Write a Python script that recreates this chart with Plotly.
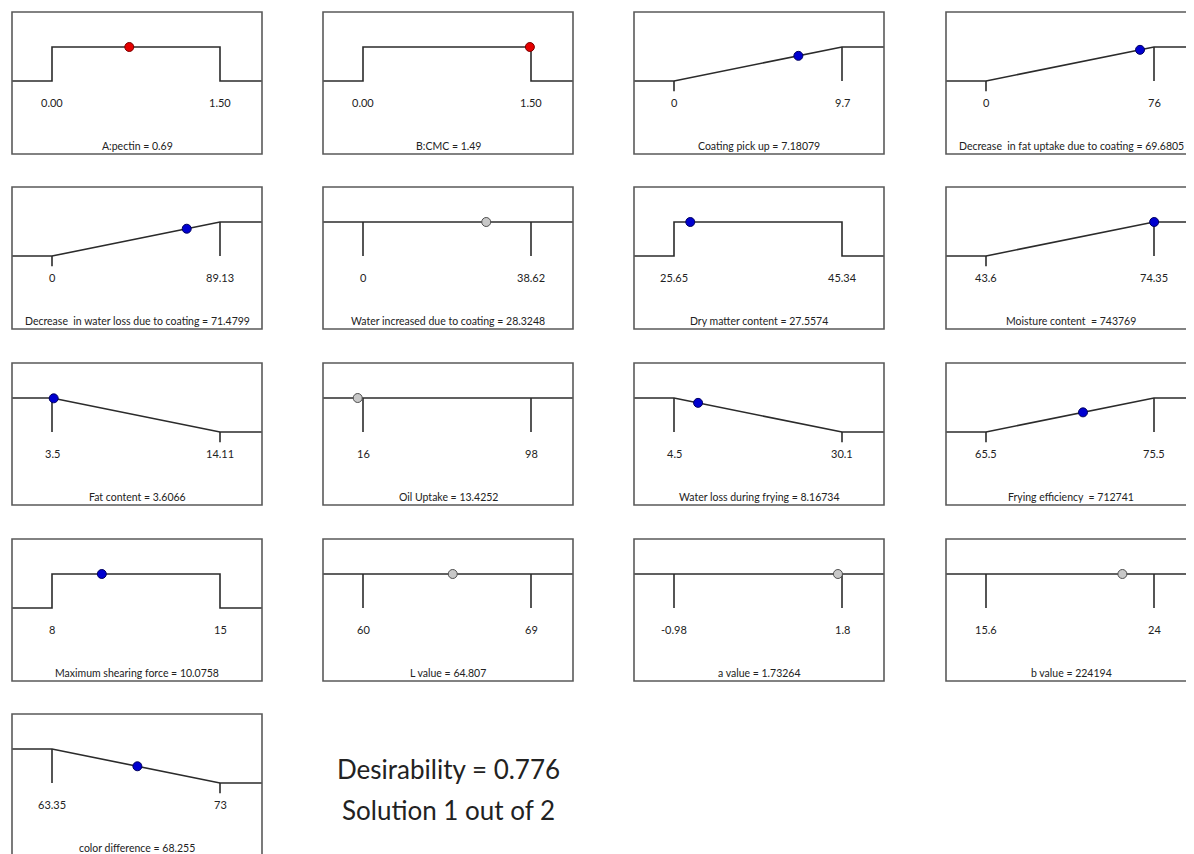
import plotly.graph_objects as go

# ---------------- data ----------------
titles = [
    "A:pectin = 0.69", "B:CMC = 1.49", "Coating pick up = 7.18079",
    "Decrease  in fat uptake due to coating = 69.6805",
    "Decrease  in water loss due to coating = 71.4799",
    "Water increased due to coating = 28.3248", "Dry matter content = 27.5574",
    "Moisture content  = 743769", "Fat content = 3.6066", "Oil Uptake = 13.4252",
    "Water loss during frying = 8.16734", "Frying efficiency  = 712741",
    "Maximum shearing force = 10.0758", "L value = 64.807", "a value = 1.73264",
    "b value = 224194", "color difference = 68.255",
]
lows = [0.00, 0.00, 0, 0, 0, 0, 25.65, 43.6, 3.5, 16, 4.5, 65.5, 8, 60, -0.98, 15.6, 63.35]
highs = [1.50, 1.50, 9.7, 76, 89.13, 38.62, 45.34, 74.35, 14.11, 98, 30.1, 75.5, 15, 69, 1.8, 24, 73]
low_labels = ["0.00", "0.00", "0", "0", "0", "0", "25.65", "43.6", "3.5", "16", "4.5",
              "65.5", "8", "60", "-0.98", "15.6", "63.35"]
high_labels = ["1.50", "1.50", "9.7", "76", "89.13", "38.62", "45.34", "74.35", "14.11",
               "98", "30.1", "75.5", "15", "69", "1.8", "24", "73"]
goals = ["range", "range", "max", "max", "max", "none", "range", "max", "min", "none",
         "min", "max", "range", "none", "none", "none", "min"]
values = [0.69, 1.49, 7.18079, 69.6805, 71.4799, 28.3248, 27.5574, 74.3769, 3.6066,
          13.4252, 8.16734, 71.2741, 10.0758, 64.807, 1.73264, 22.4194, 68.255]
kinds = ["factor", "factor"] + ["response"] * 15
summary_lines = ["Desirability = 0.776", "Solution 1 out of 2"]

# ---------------- layout constants (page pixels) ----------------
PAGE_W, PAGE_H = 1194, 854
OFF = 8                      # default page body margin
W, H = PAGE_W - OFF, PAGE_H - OFF
col_left = [12, 323, 634, 946]
row_top = [12, 187, 363, 539, 714]
BW, BH = 250, 142
T1, TSPAN = 40, 168          # first tick offset, tick spacing
HI_OFF, LO_OFF = 35, 69      # desirability 1 / 0 level offsets from box top
PXU = LO_OFF - HI_OFF        # pixels per desirability unit

LINE = "#2b2b2b"
BOX = "#5a5a5a"
FONT = "Lato, DejaVu Sans Condensed, sans-serif"


def px(p):
    return (p - OFF) / W


def py(p):
    return 1 - (p - OFF) / H


def point_color(kind, goal):
    if kind == "factor":
        return "#e50000", "#7a0000"
    if goal == "none":
        return "#c8c8c8", "#505050"
    return "#0000d0", "#000060"


def desirability(goal, lo, hi, v):
    if goal == "none":
        return 1.0
    if goal == "range":
        return 1.0 if lo <= v <= hi else 0.0
    t = (v - lo) / (hi - lo)
    t = min(max(t, 0.0), 1.0)
    return t if goal == "max" else 1.0 - t


fig = go.Figure()
annotations = []
shapes = []

for i, title in enumerate(titles):
    r, c = divmod(i, 4)
    L, T = col_left[c], row_top[r]
    lo, hi, goal = lows[i], highs[i], goals[i]
    scale = (hi - lo) / TSPAN

    def xd(p):
        return lo + (p - (L + T1)) * scale

    def yd(p):
        return (T + LO_OFF - p) / PXU

    xr_px = min(L + BW, PAGE_W)
    yb_px = min(T + BH, PAGE_H)
    n = i + 1
    xa = "xaxis" if n == 1 else f"xaxis{n}"
    ya = "yaxis" if n == 1 else f"yaxis{n}"
    xref = "x" if n == 1 else f"x{n}"
    yref = "y" if n == 1 else f"y{n}"
    fig.layout[xa] = dict(domain=[px(L), px(xr_px)], range=[xd(L), xd(xr_px)],
                          visible=False, fixedrange=True, anchor=yref)
    fig.layout[ya] = dict(domain=[py(yb_px), py(T)], range=[yd(yb_px), yd(T)],
                          visible=False, fixedrange=True, anchor=xref)

    xl, xrr = xd(L), xd(L + BW)
    if goal == "max":
        cx, cy = [xl, lo, hi, xrr], [0, 0, 1, 1]
        tx = [lo, lo, None, hi, hi]
        ty = [0, -0.3, None, 1, 0]
    elif goal == "min":
        cx, cy = [xl, lo, hi, xrr], [1, 1, 0, 0]
        tx = [lo, lo, None, hi, hi]
        ty = [1, 0, None, 0, -0.3]
    elif goal == "none":
        cx, cy = [xl, xrr], [1, 1]
        tx = [lo, lo, None, hi, hi]
        ty = [1, 0, None, 1, 0]
    else:
        cx, cy = [xl, lo, lo, hi, hi, xrr], [0, 0, 1, 1, 0, 0]
        tx, ty = [], []

    fig.add_trace(go.Scatter(x=cx, y=cy, mode="lines", xaxis=xref, yaxis=yref,
                             line=dict(color=LINE, width=1.6), hoverinfo="skip",
                             showlegend=False))
    if tx:
        fig.add_trace(go.Scatter(x=tx, y=ty, mode="lines", xaxis=xref, yaxis=yref,
                                 line=dict(color=LINE, width=1.6), hoverinfo="skip",
                                 showlegend=False))
    fc, ec = point_color(kinds[i], goal)
    fig.add_trace(go.Scatter(x=[values[i]], y=[desirability(goal, lo, hi, values[i])],
                             mode="markers", xaxis=xref, yaxis=yref,
                             marker=dict(size=9, color=fc, line=dict(color=ec, width=1)),
                             showlegend=False, cliponaxis=False))

    # box
    shapes.append(dict(type="rect", xref="paper", yref="paper",
                       x0=px(L), x1=px(L + BW), y0=py(T + BH), y1=py(T),
                       line=dict(color=BOX, width=1.6), fillcolor="rgba(0,0,0,0)"))
    # tick labels
    for xv, lab in ((lo, low_labels[i]), (hi, high_labels[i])):
        annotations.append(dict(x=xv, y=yd(T + 90), xref=xref, yref=yref, text=lab,
                                showarrow=False, font=dict(family=FONT, size=11, color="#222"),
                                xanchor="center", yanchor="middle"))
    # title
    annotations.append(dict(x=px(L + BW / 2), y=py(T + 134), xref="paper",
                            yref="paper", text=title, showarrow=False,
                            font=dict(family=FONT, size=10.5, color="#222"),
                            xanchor="center", yanchor="middle"))

for k, (line_txt, ypos) in enumerate(zip(summary_lines, [769, 810])):
    annotations.append(dict(x=px(448), y=py(ypos), xref="paper", yref="paper",
                            text=line_txt, showarrow=False,
                            font=dict(family=FONT, size=26, color="#222"),
                            xanchor="center", yanchor="middle"))

fig.update_layout(width=W, height=H, margin=dict(l=0, r=0, t=0, b=0),
                  paper_bgcolor="white", plot_bgcolor="white",
                  annotations=annotations, shapes=shapes, showlegend=False)

fig.write_html("out.html")
